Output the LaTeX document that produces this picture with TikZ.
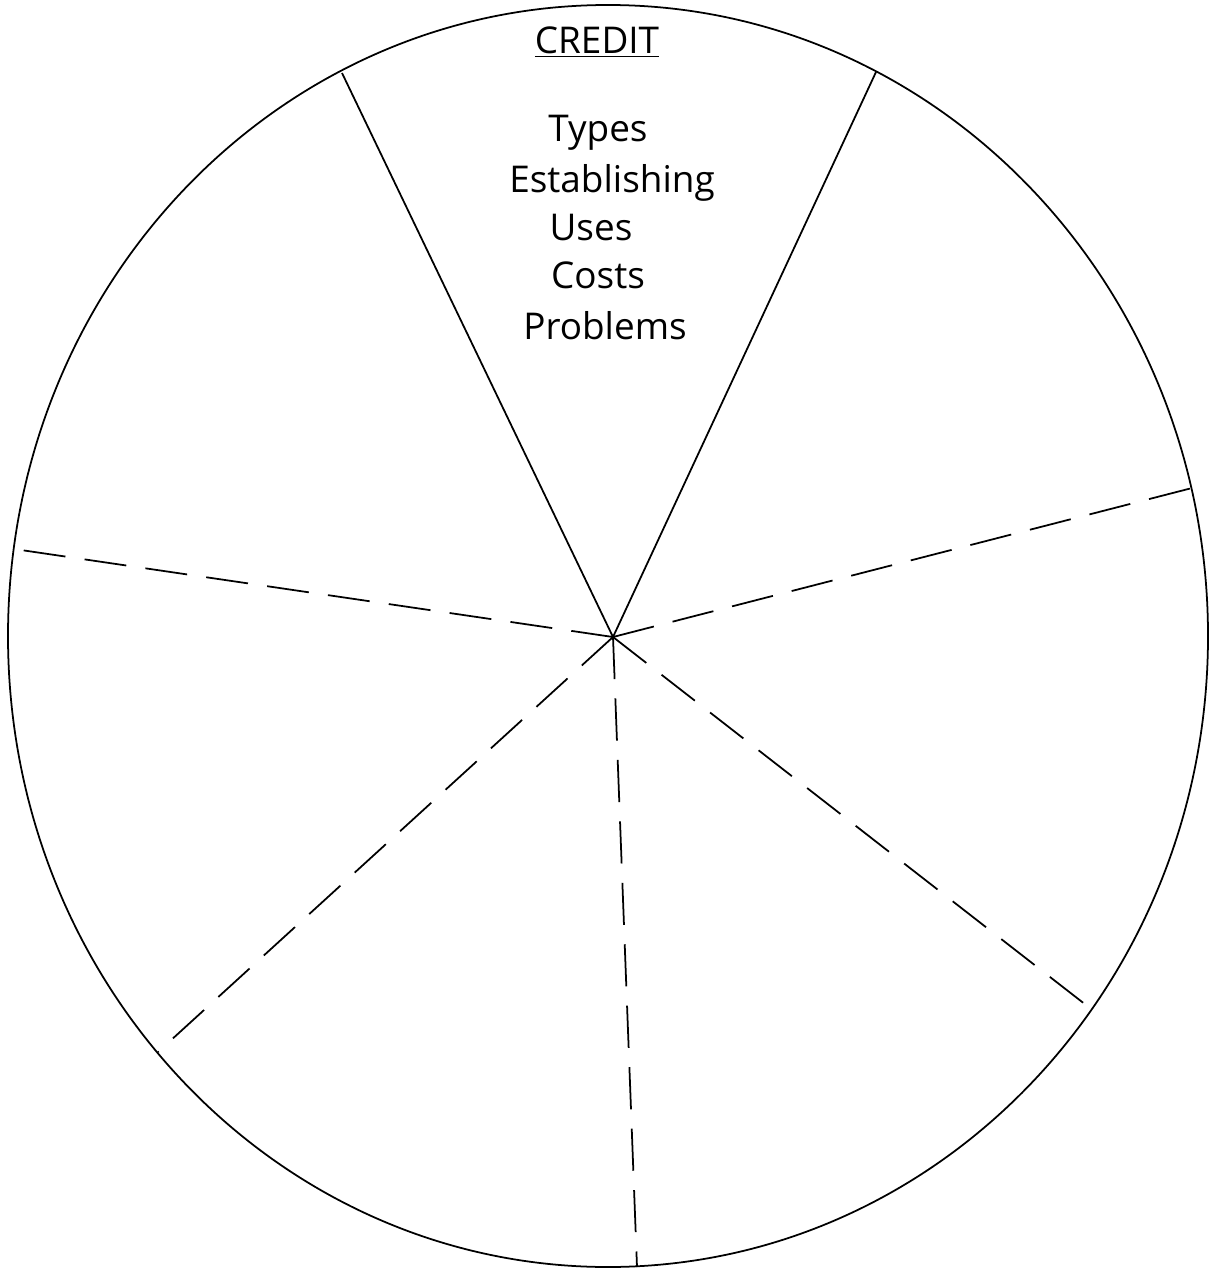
\documentclass[tikz,border=0pt]{standalone}
\usepackage{fontspec}
\setmainfont{Open Sans}
\usepackage{tikz}

\begin{document}
\begin{tikzpicture}[x=0.02cm,y=-0.02cm,line width=1pt,
    spoke/.style={black},
    dashspoke/.style={black,dash pattern=on 24pt off 11pt},
    topic/.style={font=\fontsize{21}{27}\selectfont,align=center}]
  \useasboundingbox (0,0) rectangle (1219,1270);

  \draw [black] (608,636) ellipse (600 and 631);

  \coordinate (hub) at (613,637);
  \coordinate (rimA) at (342,73);
  \coordinate (rimB) at (876,72);
  \coordinate (rimC) at (1196,487);
  \coordinate (rimD) at (1095,1012);
  \coordinate (rimE) at (637,1267);
  \coordinate (rimF) at (158,1052);
  \coordinate (rimG) at (14,549);

  \draw [spoke] (hub) -- (rimA);
  \draw [spoke] (hub) -- (rimB);
  \draw [dashspoke] (hub) -- (rimC);
  \draw [dashspoke] (hub) -- (rimD);
  \draw [dashspoke] (hub) -- (rimE);
  \draw [dashspoke] (hub) -- (rimF);
  \draw [dashspoke] (hub) -- (rimG);

  \node [topic] (title) at (597,42) {\underline{CREDIT}};
  \node [topic] (types) at (598,133) {Types};
  \node [topic] (estab) at (612,183) {Establishing};
  \node [topic] (uses) at (591,228) {Uses};
  \node [topic] (costs) at (598,275) {Costs};
  \node [topic] (probs) at (605,326) {Problems};
\end{tikzpicture}
\end{document}
